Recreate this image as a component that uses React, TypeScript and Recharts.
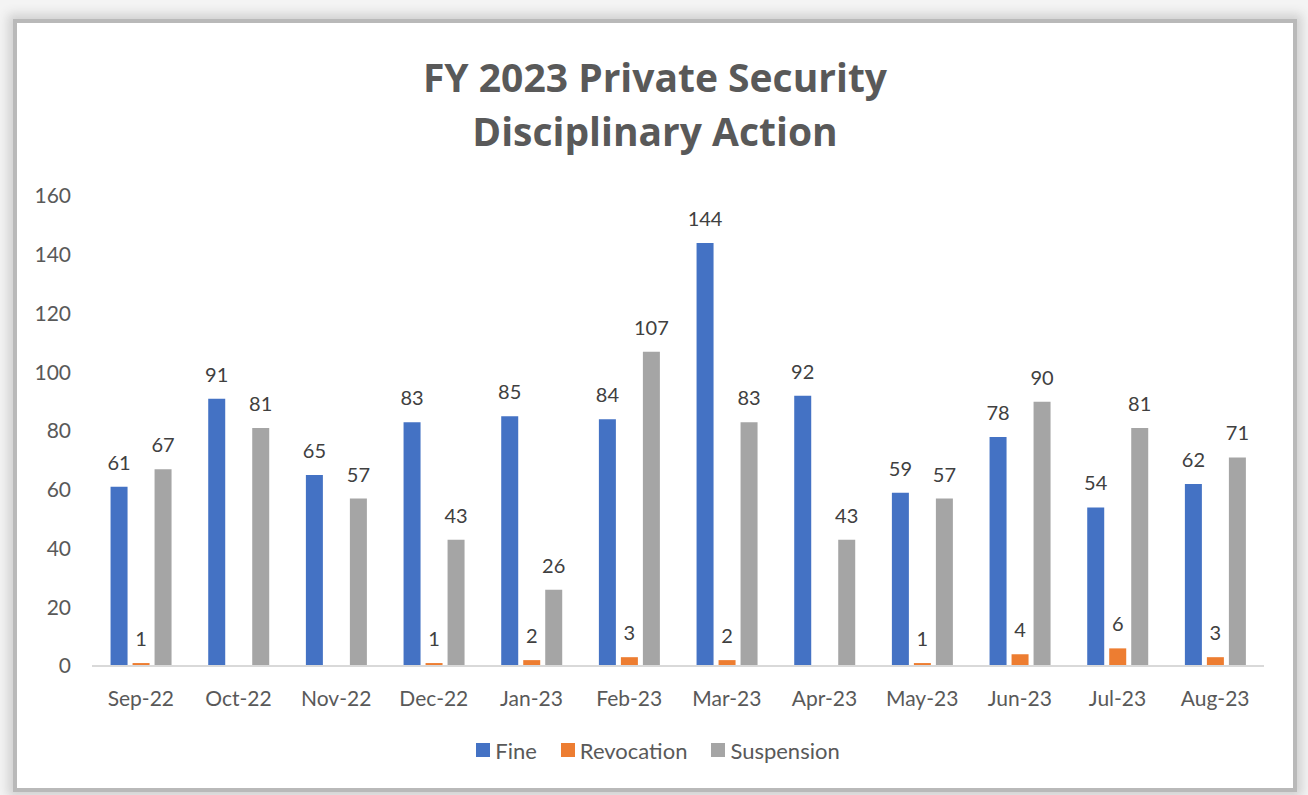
import React from "react";
import { BarChart, Bar, XAxis, YAxis, Legend, LabelList } from "recharts";

const months = [
  "Sep-22", "Oct-22", "Nov-22", "Dec-22", "Jan-23", "Feb-23",
  "Mar-23", "Apr-23", "May-23", "Jun-23", "Jul-23", "Aug-23",
];
const fine = [61, 91, 65, 83, 85, 84, 144, 92, 59, 78, 54, 62];
const revocation = [1, null, null, 1, 2, 3, 2, null, 1, 4, 6, 3];
const suspension = [67, 81, 57, 43, 26, 107, 83, 43, 57, 90, 81, 71];
const yTicks = [0, 20, 40, 60, 80, 100, 120, 140, 160];

const data = months.map((m, i) => ({
  month: m,
  Fine: fine[i],
  Revocation: revocation[i],
  Suspension: suspension[i],
}));

const FONT = "Lato, 'Open Sans', sans-serif";

const renderLegend = (props: any) => {
  const { payload } = props;
  return (
    <div
      style={{
        height: 36,
        paddingLeft: 52,
        display: "flex",
        justifyContent: "center",
        alignItems: "center",
        fontFamily: FONT,
        fontSize: 22,
        color: "#595959",
      }}
    >
      {payload.map((p: any) => (
        <span
          key={p.value}
          style={{ display: "inline-flex", alignItems: "center", margin: "0 12px" }}
        >
          <span
            style={{
              width: 14,
              height: 14,
              background: p.color,
              display: "inline-block",
              marginRight: 5,
            }}
          />
          {p.value}
        </span>
      ))}
    </div>
  );
};

const App: React.FC = () => {
  return (
    <div
      style={{
        position: "absolute",
        left: 0,
        top: 0,
        width: 1308,
        height: 795,
        background: "#f4f4f4",
        overflow: "hidden",
      }}
    >
      <div
        style={{
          position: "absolute",
          left: 17,
          top: 23,
          width: 1276,
          height: 765,
          background: "#ffffff",
          boxShadow: "0 0 0 4px #b9b9b9, 0 0 10px 9px #d0d0d0",
        }}
      />
      <div
        style={{
          position: "absolute",
          left: 17,
          width: 1276,
          top: 50,
          textAlign: "center",
          fontFamily: "'Open Sans', sans-serif",
          fontWeight: 700,
          fontSize: 39,
          lineHeight: "54px",
          color: "#595959",
        }}
      >
        FY 2023 Private Security
        <br />
        Disciplinary Action
      </div>
      <div style={{ position: "absolute", left: 0, top: 0 }}>
        <BarChart
          width={1308}
          height={795}
          data={data}
          margin={{ top: 196, right: 44, left: 0, bottom: 27 }}
          barCategoryGap="19%"
          barGap={5}
        >
          <XAxis
            dataKey="month"
            height={66}
            tickLine={false}
            tickSize={0}
            tickMargin={25}
            axisLine={{ stroke: "#d9d9d9", strokeWidth: 2 }}
            tick={{ fill: "#595959", fontSize: 21, fontFamily: FONT }}
          />
          <YAxis
            width={92}
            domain={[0, 160]}
            ticks={yTicks}
            axisLine={false}
            tickLine={false}
            tickSize={0}
            tickMargin={21}
            tick={{ fill: "#595959", fontSize: 21, fontFamily: FONT }}
          />
          <Legend verticalAlign="bottom" content={renderLegend} />
          <Bar dataKey="Fine" fill="#4472C4" isAnimationActive={false}>
            <LabelList
              dataKey="Fine"
              position="top"
              offset={17}
              fill="#404040"
              fontSize={20}
              fontFamily={FONT}
            />
          </Bar>
          <Bar dataKey="Revocation" fill="#ED7D31" isAnimationActive={false}>
            <LabelList
              dataKey="Revocation"
              position="top"
              offset={17}
              fill="#404040"
              fontSize={20}
              fontFamily={FONT}
            />
          </Bar>
          <Bar dataKey="Suspension" fill="#A5A5A5" isAnimationActive={false}>
            <LabelList
              dataKey="Suspension"
              position="top"
              offset={17}
              fill="#404040"
              fontSize={20}
              fontFamily={FONT}
            />
          </Bar>
        </BarChart>
      </div>
    </div>
  );
};

export default App;
